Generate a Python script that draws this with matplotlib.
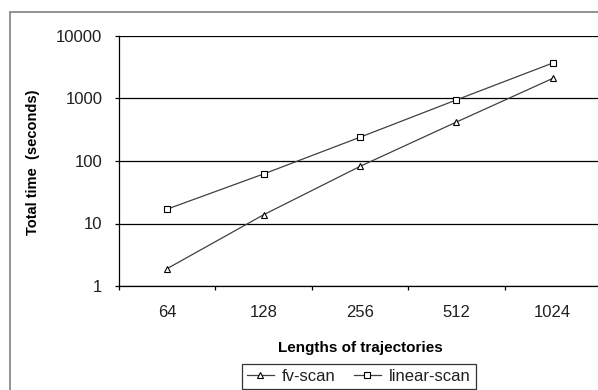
import numpy as np
import matplotlib
matplotlib.use("Agg")
import matplotlib.pyplot as plt
from matplotlib.patches import Rectangle

plt.rcParams['font.family'] = ['Liberation Sans', 'DejaVu Sans']

lengths = ["64", "128", "256", "512", "1024"]
fv_scan = [1.9, 13.8, 82, 420, 2100]
linear_scan = [17, 62, 240, 950, 3700]

W, H = 598, 390
fig = plt.figure(figsize=(W / 100, H / 100), dpi=100)

# outer chart border (cropped at right and bottom)
fig.patches.append(Rectangle((10 / W, -0.2), 1.2, (H - 12) / H + 0.2,
                             transform=fig.transFigure, fill=False,
                             edgecolor='#808080', linewidth=1.2))

ax = fig.add_axes([119 / W, 1 - 286 / H, (601 - 119) / W, (286 - 36) / H])
x = np.arange(len(lengths))

ax.plot(x, fv_scan, color='#404040', linewidth=0.9, marker='^', markersize=5,
        mfc='white', mec='black', mew=0.8, label='fv-scan')
ax.plot(x, linear_scan, color='#404040', linewidth=0.9, marker='s', markersize=4,
        mfc='white', mec='black', mew=0.8, label='linear-scan')

ax.set_yscale('log')
ax.set_ylim(1, 10000)
ax.set_yticks([1, 10, 100, 1000, 10000])
ax.set_yticklabels(["1", "10", "100", "1000", "10000"])
ax.yaxis.set_minor_locator(matplotlib.ticker.NullLocator())
ax.grid(True, axis='y', color='black', linewidth=0.9)

ax.set_xlim(-0.5, len(lengths) - 0.5)
ax.set_xticks(x)
ax.set_xticklabels(lengths)
ax.set_xticks(np.arange(len(lengths) + 1) - 0.5, minor=True)
ax.tick_params(axis='x', which='major', length=0, pad=14, labelsize=12, labelcolor='#202020')
ax.tick_params(axis='x', which='minor', length=3, width=0.9)
ax.tick_params(axis='y', which='major', length=3, width=0.9, pad=9, labelsize=12, labelcolor='#202020')

for s in ['top', 'right']:
    ax.spines[s].set_visible(False)
ax.spines['left'].set_linewidth(0.9)
ax.spines['bottom'].set_linewidth(0.9)

ax.set_xlabel("Lengths of trajectories", fontweight='bold', fontsize=11, labelpad=15)
fig.text(33 / W, 1 - 162 / H, "Total time  (seconds)", rotation=90,
         fontweight='bold', fontsize=10.5, ha='center', va='center')

fig.legend(loc='upper left', bbox_to_anchor=(242 / W, 1 - 364 / H), ncol=2,
           frameon=True, fancybox=False, edgecolor='black', borderaxespad=0,
           fontsize=12, handlelength=1.6, handletextpad=0.5, columnspacing=1.1,
           borderpad=0.3, labelcolor='#202020').get_frame().set_linewidth(0.9)

fig.savefig("out.png", dpi=100)
